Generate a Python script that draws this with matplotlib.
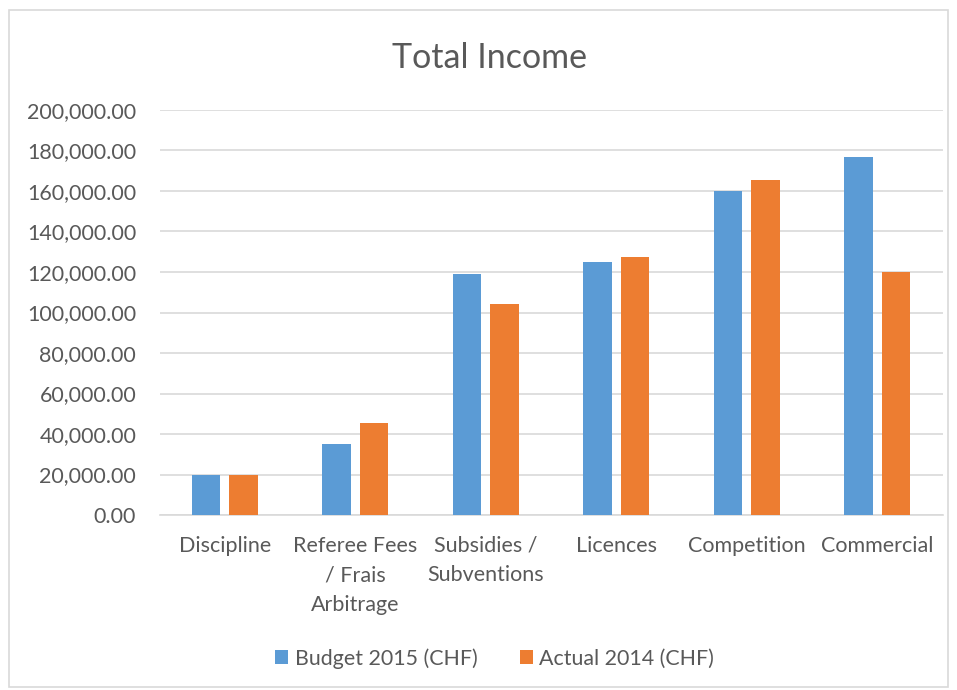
import numpy as np
import matplotlib
matplotlib.use("Agg")
import matplotlib.pyplot as plt
from matplotlib.patches import Rectangle
from matplotlib.ticker import FuncFormatter

# donnees
categories = ["Discipline", "Referee Fees\n/ Frais\nArbitrage", "Subsidies /\nSubventions",
              "Licences", "Competition", "Commercial"]
budget_2015 = [20000, 35000, 119000, 125000, 160000, 176700]
actual_2014 = [20000, 45500, 104200, 127300, 165400, 120200]
series_names = ["Budget 2015 (CHF)", "Actual 2014 (CHF)"]

blue = "#5b9bd5"
orange = "#ed7d31"
txt = "#595959"

plt.rcParams['font.family'] = ['Lato', 'DejaVu Sans']

fig = plt.figure(figsize=(9.57, 6.9), dpi=100)
ax = fig.add_axes([0.167, 0.2536, 0.818, 0.587])

x = np.arange(len(categories))
w = 0.22
ax.bar(x - 0.145, budget_2015, w, color=blue, label=series_names[0], zorder=3)
ax.bar(x + 0.142, actual_2014, w, color=orange, label=series_names[1], zorder=3)

ax.set_xlim(-0.5, len(categories) - 0.5)
ax.set_ylim(0, 200000)
ax.set_yticks(np.arange(0, 200001, 20000))
ax.yaxis.set_major_formatter(FuncFormatter(lambda v, p: f"{v:,.2f}"))
ax.set_xticks(x)
ax.set_xticklabels(categories, fontsize=15.5, color=txt, linespacing=1.6)
ax.tick_params(axis='y', labelsize=15.5, colors=txt, length=0, pad=17)
ax.tick_params(axis='x', length=0, pad=15)
ax.grid(axis='y', color="#d9d9d9", linewidth=1.2, zorder=0)
for s in ["top", "right", "left"]:
    ax.spines[s].set_visible(False)
ax.spines["bottom"].set_color("#d9d9d9")
ax.spines["bottom"].set_linewidth(1.2)

fig.text(0.512, 0.916, "Total Income", ha="center", va="center", fontsize=24.5, color=txt)

fig.legend(loc="center", bbox_to_anchor=(0.517, 0.046), ncol=2, frameon=False,
           fontsize=15.4, labelcolor=txt, handlelength=0.6, handleheight=0.6,
           handletextpad=0.3, columnspacing=2.0)

# cadre du graphique
fig.patches.append(Rectangle((0.009, 0.004), 0.982, 0.982, transform=fig.transFigure,
                             fill=False, edgecolor="#d9d9d9", linewidth=1.2))

fig.savefig("out.png", dpi=100)
